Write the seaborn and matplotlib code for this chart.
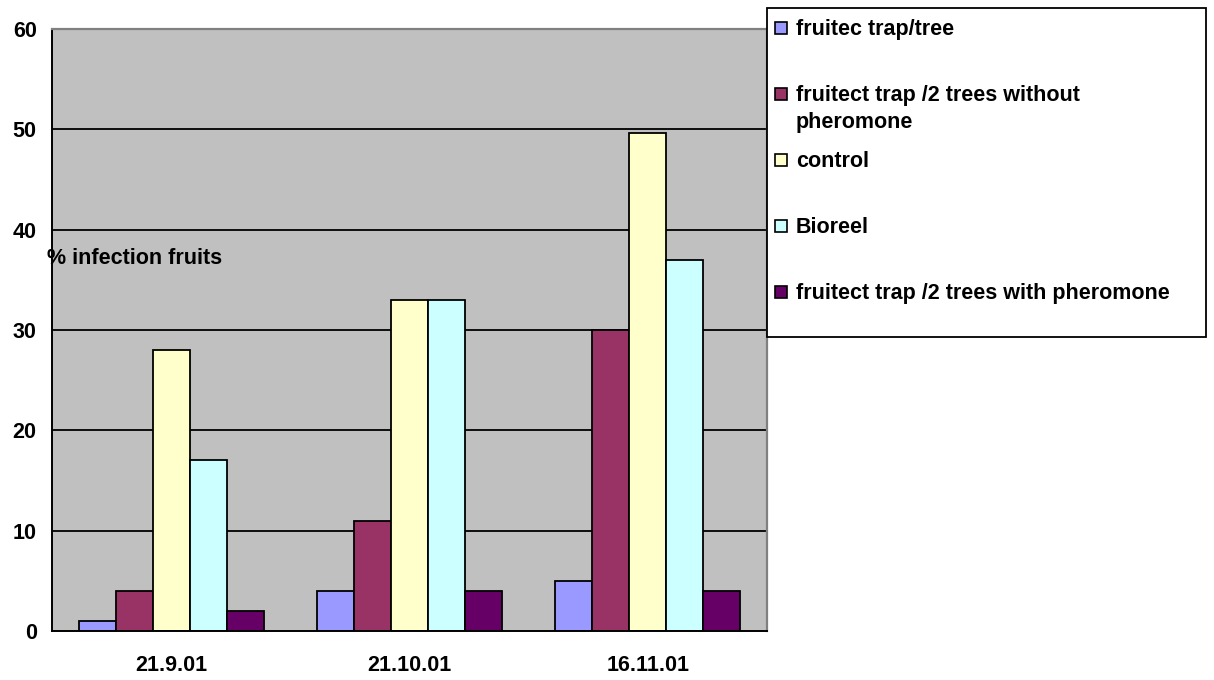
import matplotlib
matplotlib.use("Agg")
import matplotlib.pyplot as plt
import seaborn as sns
import pandas as pd
from matplotlib.patches import Rectangle

# Sampling dates
dates = ["21.9.01", "21.10.01", "16.11.01"]

# Treatments (series names) and their legend texts
series = [
    "fruitec trap/tree",
    "fruitect trap /2 trees without pheromone",
    "control",
    "Bioreel",
    "fruitect trap /2 trees with pheromone",
]
legend_labels = [
    "fruitec trap/tree",
    "fruitect trap /2 trees without\npheromone",
    "control",
    "Bioreel",
    "fruitect trap /2 trees with pheromone",
]

# % infected fruits per treatment and date
trap_per_tree = [1, 4, 5]
trap_2_trees_no_pheromone = [4, 11, 30]
control = [28, 33, 49.6]
bioreel = [17, 33, 37]
trap_2_trees_pheromone = [2, 4, 4]

colors = ["#9999FF", "#993366", "#FFFFCC", "#CCFFFF", "#660066"]
y_ticks = [0, 10, 20, 30, 40, 50, 60]
y_label = "% infection fruits"

values = [trap_per_tree, trap_2_trees_no_pheromone, control, bioreel, trap_2_trees_pheromone]
rows = []
for name, vals in zip(series, values):
    for d, v in zip(dates, vals):
        rows.append({"date": d, "series": name, "value": v})
df = pd.DataFrame(rows)

sns.set_style("white")
plt.rcParams["font.family"] = ["Liberation Sans", "DejaVu Sans"]
plt.rcParams["font.weight"] = "bold"
plt.rcParams["text.color"] = "black"
plt.rcParams["xtick.color"] = "black"
plt.rcParams["ytick.color"] = "black"
plt.rcParams["xtick.labelcolor"] = "black"
plt.rcParams["ytick.labelcolor"] = "black"

FS = 15.5
W, H = 1214, 680
fig = plt.figure(figsize=(W / 100, H / 100), dpi=100)
ax = fig.add_axes([52 / W, 1 - 631 / H, (767 - 52) / W, (631 - 29) / H])

sns.barplot(
    data=df, x="date", y="value", hue="series",
    order=dates, hue_order=series, palette=colors,
    saturation=1, width=0.775, edgecolor="black", linewidth=1.3,
    legend=False, ax=ax,
)

ax.set_facecolor("#C0C0C0")
ax.set_xlim(-0.5, len(dates) - 0.5)
ax.set_ylim(y_ticks[0], y_ticks[-1])
ax.set_xlabel("")
ax.set_ylabel("")

# Horizontal gridlines
ax.set_yticks(y_ticks)
ax.yaxis.grid(True, color="black", linewidth=1.3)
ax.set_axisbelow(True)
ax.yaxis.get_gridlines()[-1].set_visible(False)
ax.yaxis.get_gridlines()[0].set_visible(False)

for side in ["left", "bottom"]:
    ax.spines[side].set_color("black")
    ax.spines[side].set_linewidth(1.4)
for side in ["top", "right"]:
    ax.spines[side].set_color("#808080")
    ax.spines[side].set_linewidth(1.6)

# Tick marks at group boundaries, labels at group centres
ax.set_xticks([i - 0.5 for i in range(len(dates) + 1)])
ax.set_xticklabels([])
ax.set_xticks(range(len(dates)), minor=True)
ax.set_xticklabels(dates, minor=True, fontsize=FS, fontweight="bold", color="black")
ax.tick_params(axis="x", which="major", direction="out", length=4, width=1.2, color="black")
ax.tick_params(axis="x", which="minor", length=0, pad=17)
ax.tick_params(axis="y", direction="out", length=5, width=1.2, color="black", pad=6, labelsize=FS)
for t in ax.get_yticklabels():
    t.set_fontweight("bold")
    t.set_color("black")

fig.text(47 / W, 1 - 264 / H, y_label, ha="left", va="baseline",
         fontsize=FS, fontweight="bold", color="black")

# Legend box
fig.add_artist(Rectangle((767 / W, 1 - 337 / H), (1206 - 767) / W, (337 - 8) / H,
                         transform=fig.transFigure, facecolor="white",
                         edgecolor="black", linewidth=1.3, zorder=5))
line_gap = 27
for i, (label, col) in enumerate(zip(legend_labels, colors)):
    base = 35 + 66 * i
    cy = base - 7
    fig.add_artist(Rectangle((775 / W, 1 - (cy + 6) / H), 12 / W, 12 / H,
                             transform=fig.transFigure, facecolor=col,
                             edgecolor="black", linewidth=1.2, zorder=6))
    for j, line in enumerate(label.split("\n")):
        fig.text(796 / W, 1 - (base + j * line_gap) / H, line, ha="left", va="baseline",
                 fontsize=FS, fontweight="bold", color="black", zorder=6)

fig.savefig("out.png", dpi=100, facecolor="white")
